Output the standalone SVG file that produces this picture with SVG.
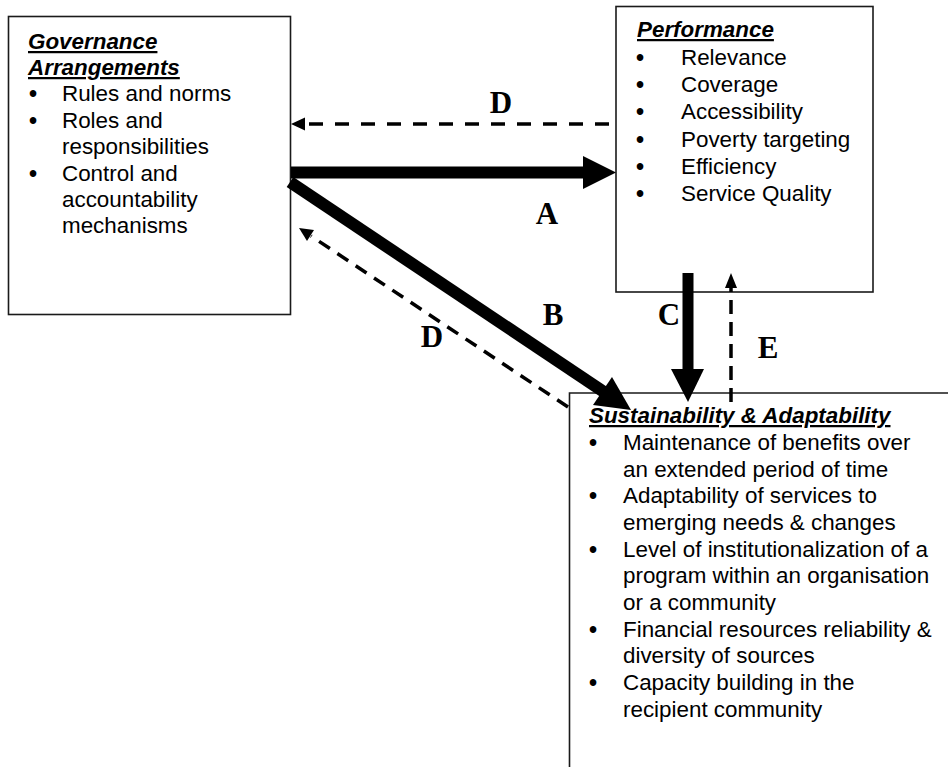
<svg xmlns="http://www.w3.org/2000/svg" width="948" height="767" viewBox="0 0 948 767">
<style>
.box{fill:#fff;stroke:#1a1a1a;stroke-width:1.6}
.t{font-family:"Liberation Sans",Arial,sans-serif;font-size:22.4px;fill:#000}
.h{font-family:"Liberation Sans",Arial,sans-serif;font-size:22.4px;font-weight:bold;font-style:italic;text-decoration:underline;fill:#000}
.b{font-family:"Liberation Sans",Arial,sans-serif;font-size:23px;font-weight:bold;fill:#000;text-anchor:middle}
.lbl{font-family:"Liberation Serif","Times New Roman",serif;font-size:31px;font-weight:bold;fill:#000;text-anchor:middle}
.thick{stroke:#000;fill:none}
.dash{stroke:#000;fill:none;stroke-width:3.5}
.head{fill:#000}
</style>
<rect width="948" height="767" fill="#fff"/>
<g id="governance">
<rect class="box" x="8.5" y="16.5" width="282" height="298"/>
<text class="h" x="28" y="49">Governance</text>
<text class="h" x="28" y="75">Arrangements</text>
<text class="b" x="33" y="102">•</text><text class="t" x="62" y="101">Rules and norms</text>
<text class="b" x="33" y="129">•</text><text class="t" x="62" y="128">Roles and</text>
<text class="t" x="62" y="154">responsibilities</text>
<text class="b" x="33" y="182">•</text><text class="t" x="62" y="181">Control and</text>
<text class="t" x="62" y="207">accountability</text>
<text class="t" x="62" y="233">mechanisms</text>
</g>
<g id="performance">
<rect class="box" x="616" y="6.5" width="257" height="285.5"/>
<text class="h" x="637" y="37">Performance</text>
<text class="b" x="640" y="66">•</text><text class="t" x="681" y="65">Relevance</text>
<text class="b" x="640" y="93">•</text><text class="t" x="681" y="92">Coverage</text>
<text class="b" x="640" y="120">•</text><text class="t" x="681" y="119">Accessibility</text>
<text class="b" x="640" y="148">•</text><text class="t" x="681" y="147">Poverty targeting</text>
<text class="b" x="640" y="175">•</text><text class="t" x="681" y="174">Efficiency</text>
<text class="b" x="640" y="202">•</text><text class="t" x="681" y="201">Service Quality</text>
</g>
<g id="sustainability">
<path d="M948,393 H569.5 V767" fill="#fff" stroke="#1a1a1a" stroke-width="1.6"/>
<text class="h" x="589" y="423">Sustainability &amp; Adaptability</text>
<text class="b" x="593" y="451">•</text><text class="t" x="623" y="450">Maintenance of benefits over</text>
<text class="t" x="623" y="477">an extended period of time</text>
<text class="b" x="593" y="504">•</text><text class="t" x="623" y="503">Adaptability of services to</text>
<text class="t" x="623" y="530">emerging needs &amp; changes</text>
<text class="b" x="593" y="558">•</text><text class="t" x="623" y="557">Level of institutionalization of a</text>
<text class="t" x="623" y="583">program within an organisation</text>
<text class="t" x="623" y="610">or a community</text>
<text class="b" x="593" y="638">•</text><text class="t" x="623" y="637">Financial resources reliability &amp;</text>
<text class="t" x="623" y="663">diversity of sources</text>
<text class="b" x="593" y="691">•</text><text class="t" x="623" y="690">Capacity building in the</text>
<text class="t" x="623" y="717">recipient community</text>
</g>
<g id="connectors">
<line class="thick" x1="291" y1="172.5" x2="585" y2="172.5" stroke-width="12"/>
<polygon class="head" points="583,156 616,172.5 583,189"/>
<line class="thick" x1="290" y1="182" x2="604" y2="392" stroke-width="12"/>
<polygon class="head" points="593,405 631,410 612,377"/>
<line class="thick" x1="688" y1="273" x2="688" y2="371" stroke-width="11"/>
<polygon class="head" points="671,369 704,369 688,402"/>
<line class="dash" x1="731" y1="402" x2="731" y2="287" stroke-width="3" stroke-dasharray="14 8"/>
<polygon class="head" points="725,288 737,288 731,273"/>
<line class="dash" x1="609" y1="124" x2="304" y2="124" stroke-dasharray="14 12"/>
<polygon class="head" points="305,117.5 305,130.5 291,124"/>
<line class="dash" x1="568" y1="407" x2="311" y2="236" stroke-width="3" stroke-dasharray="13 9"/>
<polygon class="head" points="307,241 314,230 299,228"/>
</g>
<g id="labels">
<text class="lbl" x="547" y="224">A</text>
<text class="lbl" x="553" y="325">B</text>
<text class="lbl" x="669" y="325">C</text>
<text class="lbl" x="501" y="113">D</text>
<text class="lbl" x="432" y="347">D</text>
<text class="lbl" x="768" y="358">E</text>
</g>
</svg>
